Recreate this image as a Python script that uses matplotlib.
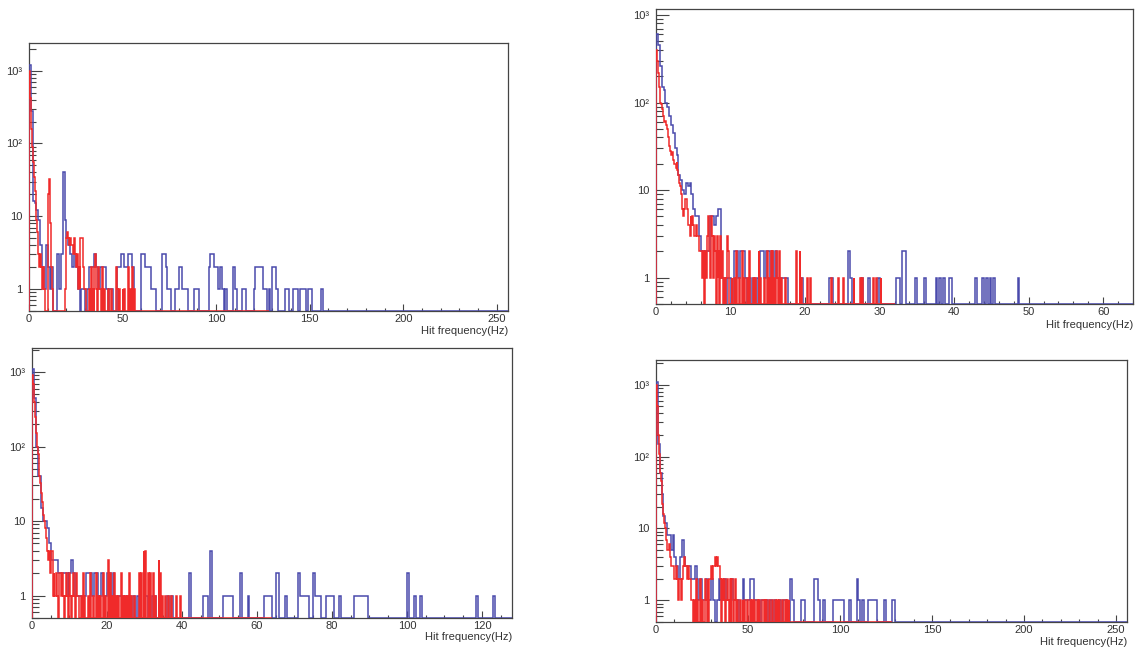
import matplotlib
matplotlib.use('Agg')

import matplotlib.pyplot as plt
import numpy as np
from matplotlib.ticker import FixedLocator, FixedFormatter, MultipleLocator, LogLocator, NullFormatter

plt.rcParams['font.family'] = ['Liberation Sans', 'DejaVu Sans']

# -------------------
# Counts.
# "head" = consecutive bins starting at 0 Hz, "tail" = isolated bins (lower edge in Hz)
# -------------------

# Panel A (top left): blue 1 Hz bins, red 0.5 Hz bins
a_blue_head = [1200, 280, 16, 15, 12, 9, 4, 2, 1, 4, 2, 1, 2, 0, 0, 3, 1, 3, 40, 9,
               5, 4, 3, 2, 3, 2, 1, 0, 1, 1, 0, 1, 2, 2, 2, 3, 2, 1, 2, 2,
               2, 1, 0, 1, 1, 0, 0, 2, 2, 3, 3, 2, 2, 3, 3, 2]
a_blue_tail_hz = [60, 61, 62, 63, 64, 65, 66, 67, 71, 72, 73, 74, 75, 78, 79, 80, 81, 82, 83, 84,
                  88, 89, 90, 96, 97, 98, 99, 100, 101, 102, 103, 105, 109, 110, 114, 115, 120, 121,
                  122, 123, 124, 125, 126, 128, 130, 131, 132, 137, 138, 141, 142, 143, 145, 146,
                  147, 149, 150, 156]
a_blue_tail_n = [3, 3, 2, 2, 2, 1, 1, 1, 3, 3, 2, 1, 1, 1, 1, 2, 2, 1, 1, 1,
                 1, 1, 1, 2, 3, 3, 2, 2, 1, 2, 1, 1, 2, 1, 1, 1, 1, 2,
                 2, 2, 2, 1, 1, 1, 2, 2, 1, 1, 1, 1, 1, 1, 1, 1,
                 1, 1, 1, 1]
a_red_head = [1000, 420, 160, 90, 55, 35, 22, 14, 9, 6, 3, 2, 3, 2, 1, 2, 1, 0, 0, 0,
              20, 33, 8, 5, 2, 1, 0, 0, 0, 0, 0, 0, 0, 0, 0, 0, 0, 0, 0, 1,
              5, 6, 5, 4, 5, 4, 4, 3, 5, 3, 2, 3, 1, 2, 1, 5, 5, 5, 2, 1]
a_red_tail_hz = [30, 32, 33, 34, 35, 35.5, 36, 37, 37.5, 38, 39, 40, 42, 44, 46.5, 47, 48,
                 50, 51, 53, 54, 55, 56]
a_red_tail_n = [1, 1, 2, 1, 2, 3, 1, 2, 1, 1, 2, 1, 1, 1, 2, 1, 1,
                1, 1, 2, 1, 2, 1]

# Panel B (top right): blue 0.25 Hz bins, red 0.125 Hz bins
b_blue_head = [600, 450, 260, 150, 140, 100, 90, 70, 55, 45, 30, 25, 15, 13, 10, 9, 12, 11, 12, 9,
               6, 5, 5, 3, 2, 2, 2, 2, 2, 5, 5, 4, 5, 6, 6, 1, 1, 0, 1, 1]
b_blue_tail_hz = [10.5, 10.75, 11, 11.25, 11.5, 11.75, 12, 12.5, 13, 13.5, 14, 14.25, 14.5, 14.75,
                  15, 15.25, 15.5, 16, 16.25, 16.75, 17, 17.25, 17.5, 19.25, 19.5, 23.25, 23.5,
                  25.75, 26, 27.5, 28.5, 29.75, 32.25, 32.5, 33, 33.25, 34.75, 36, 37.5, 38, 38.5,
                  39.25, 39.5, 42.75, 43.75, 44.25, 44.75, 45.25, 48.5]
b_blue_tail_n = [2, 2, 1, 2, 2, 2, 1, 1, 1, 1, 2, 2, 1, 2,
                 2, 1, 2, 2, 1, 1, 1, 1, 1, 1, 1, 1, 1,
                 2, 1, 1, 1, 1, 1, 1, 2, 2, 1, 1, 1, 1, 1,
                 1, 1, 1, 1, 1, 1, 1, 1]
b_red_head = [400, 300, 220, 150, 100, 95, 85, 70, 65, 60, 62, 55, 50, 40, 32, 28, 25, 27, 22, 20,
              20, 18, 21, 17, 15, 12, 11, 9, 6, 5, 6, 8, 8, 6, 4, 4, 3, 5, 4, 5,
              4, 3, 3, 4, 3, 3, 2, 2, 2, 1, 2, 0, 0, 2, 1, 3, 5, 2, 1, 5,
              3, 1, 3, 2, 0, 3, 1, 2, 0, 3, 1, 2, 0, 1, 0, 1, 3, 2]
b_red_tail_hz = [10.125, 10.5, 10.75, 11.125, 11.5, 11.75, 12.25, 12.5, 13, 13.25, 13.75, 14,
                 14.5, 14.875, 15.125, 15.375, 15.625, 15.875, 16.125, 16.25, 16.5, 16.75, 17.25,
                 18.75, 19.25, 19.5, 20.25, 20.625, 23.5, 24.375, 25.125, 26.5, 27.375, 27.625,
                 29.125, 29.5, 30.125]
b_red_tail_n = [1, 1, 2, 1, 2, 1, 1, 2, 1, 1, 2, 1,
                1, 2, 1, 2, 2, 1, 2, 1, 2, 1, 1,
                2, 2, 1, 1, 1, 1, 1, 1, 1, 1, 1,
                1, 1, 1]

# Panel C (bottom left): blue 0.5 Hz bins, red 0.25 Hz bins
c_blue_head = [1100, 450, 100, 40, 40, 15, 10, 10, 8, 5, 3, 3, 3, 3, 2, 2, 2, 2, 2, 1,
               2, 3, 2, 1, 1, 1, 1, 1, 1, 2, 2, 2, 1, 2, 2, 1, 1, 2, 1, 1,
               2, 2, 1, 2, 1, 0, 1, 1, 1, 0, 1, 0, 1, 0, 1, 0, 1, 0, 0, 0,
               1, 1, 0, 0, 1, 1, 0, 0, 1, 0, 0, 0, 1, 0, 1]
c_blue_tail_hz = [42, 45.5, 46, 46.5, 47.5, 51, 51.5, 52, 52.5, 53, 55.5, 57.5, 62, 62.5, 63, 63.5,
                  65, 65.5, 67.5, 71, 71.5, 72, 72.5, 73, 73.5, 75, 75.5, 76, 76.5, 78.5, 79, 79.5,
                  80, 82, 86, 86.5, 87, 87.5, 88, 88.5, 89, 100, 102, 103.5, 118.5, 123]
c_blue_tail_n = [2, 1, 1, 1, 4, 1, 1, 1, 1, 1, 2, 1, 1, 1, 1, 1,
                 2, 2, 1, 2, 1, 1, 1, 1, 1, 2, 1, 1, 1, 1, 1, 1,
                 1, 1, 1, 1, 1, 1, 1, 1, 1, 2, 1, 1, 1, 1]
c_red_head = [900, 700, 400, 250, 150, 100, 80, 55, 40, 32, 24, 18, 12, 10, 8, 6, 4, 3, 4, 2,
              4, 4, 1, 2, 1, 1, 2, 1, 0, 2, 2, 1, 2, 1, 0, 1, 2, 1, 0, 2,
              2, 1, 0, 1, 2, 1, 0, 2, 1, 1]
c_red_tail_hz = [13, 13.5, 14, 15, 15.5, 16.25, 17, 17.5, 18.25, 19, 19.5, 20.25, 20.75, 21.25,
                 22, 22.5, 23, 23.75, 24.25, 24.75, 25.25, 26, 26.5, 27.25, 28.5, 29, 29.75, 30.25,
                 31, 31.5, 32.25, 32.75, 33.75, 34.25, 34.75, 35.5, 36.25, 37, 38.5, 39.5]
c_red_tail_n = [1, 2, 1, 1, 2, 1, 2, 1, 1, 2, 1, 3, 2, 1,
                2, 1, 1, 2, 1, 1, 1, 2, 1, 1, 2, 2, 4, 4,
                2, 2, 2, 1, 3, 2, 1, 1, 1, 1, 1, 1]

# Panel D (bottom right): blue 1 Hz bins, red 0.5 Hz bins
d_blue_head = [1100, 150, 60, 30, 15, 12, 8, 8, 5, 8, 4, 3, 2, 4, 7, 4, 3, 3, 3, 2,
               2, 3, 2, 1, 2, 1, 1, 2, 1, 1, 2, 1, 0, 1, 2, 1, 1, 2, 1, 1,
               1, 2, 1, 1, 1, 0, 0, 2, 1, 1, 1, 2, 2, 1, 1, 1]
d_blue_tail_hz = [57, 58, 60, 62, 64, 67, 69, 70, 73, 74, 79, 80, 86, 87, 88, 91, 96, 97, 98, 99,
                  100, 101, 105, 109, 110, 112, 115, 116, 117, 118, 119, 124, 128, 129]
d_blue_tail_n = [1, 1, 1, 1, 1, 1, 1, 1, 2, 1, 1, 1, 2, 2, 1, 1, 1, 1, 1, 1,
                 1, 1, 1, 2, 1, 1, 1, 1, 1, 1, 1, 1, 1, 1]
d_red_head = [1000, 500, 200, 110, 60, 45, 32, 22, 16, 12, 10, 7, 5, 5, 6, 4, 3, 3, 3, 2,
              2, 2, 3, 2, 1, 2, 2, 1, 2, 3, 4, 4, 3, 3, 2, 3, 2, 2, 1, 1]
d_red_tail_hz = [20.5, 21.5, 22.5, 24, 25, 26.5, 27, 28, 29, 29.5, 30, 30.5, 31, 31.5, 32, 32.5,
                 33, 33.5, 34, 34.5, 35, 36, 36.5, 37, 38, 38.5, 39, 40, 41, 41.5, 42.5, 43, 44,
                 45.5, 47, 48, 49.5, 51, 52, 53.5, 55, 56, 57.5, 58, 59, 60, 61.5, 63, 64.5, 66,
                 67, 68.5, 70, 71, 72]
d_red_tail_n = [1, 2, 1, 2, 1, 2, 1, 2, 2, 2, 3, 2, 3, 3, 4, 3,
                4, 3, 3, 2, 2, 2, 1, 2, 1, 2, 1, 2, 2, 2, 1, 2, 1,
                1, 1, 1, 1, 1, 1, 1, 1, 1, 1, 1, 1, 1, 1, 1, 1, 1,
                1, 1, 1, 1, 1]

BLUE = '#4a4aac'
RED = '#f02a2a'
YMIN = 0.5


def fill_bins(head, tail_hz, tail_n, width, nbins=256):
    counts = np.zeros(nbins)
    counts[:len(head)] = head
    idx = np.round(np.asarray(tail_hz) / width).astype(int)
    counts[idx] = tail_n
    return counts


def draw_hist(ax, counts, width, color):
    edges = np.arange(len(counts) + 1) * width
    vals = np.where(counts > 0, counts, YMIN)  # empty bins sit on the frame like ROOT
    ax.stairs(vals, edges, baseline=YMIN, color=color, lw=1.1, zorder=3)


# panel: (rect, xmax, ymax, major, minor, blue bin width, blue data, red data, xlabel offset px)
panels = [
    ([0.0255, 0.5201, 0.4213, 0.4136], 256, 2400, 50, 10, 1.0,
     (a_blue_head, a_blue_tail_hz, a_blue_tail_n), (a_red_head, a_red_tail_hz, a_red_tail_n), 20),
    ([0.5770, 0.5309, 0.4195, 0.4552], 64, 1170, 10, 2, 0.25,
     (b_blue_head, b_blue_tail_hz, b_blue_tail_n), (b_red_head, b_red_tail_hz, b_red_tail_n), 21),
    ([0.0281, 0.0463, 0.4222, 0.4167], 128, 2100, 20, 5, 0.5,
     (c_blue_head, c_blue_tail_hz, c_blue_tail_n), (c_red_head, c_red_tail_hz, c_red_tail_n), 19),
    ([0.5770, 0.0401, 0.4142, 0.4043], 256, 2200, 50, 10, 1.0,
     (d_blue_head, d_blue_tail_hz, d_blue_tail_n), (d_red_head, d_red_tail_hz, d_red_tail_n), 20),
]

fig = plt.figure(figsize=(11.37, 6.48), dpi=100)

for rect, xmax, ymax, major, minor, bw, blue, red, lab_off in panels:
    ax = fig.add_axes(rect)
    ax.set_yscale('log')

    draw_hist(ax, fill_bins(*blue, bw), bw, BLUE)
    draw_hist(ax, fill_bins(*red, bw / 2), bw / 2, RED)

    ax.set_xlim(0, xmax)
    ax.set_ylim(YMIN, ymax)

    ax.xaxis.set_major_locator(MultipleLocator(major))
    ax.xaxis.set_minor_locator(MultipleLocator(minor))
    ax.yaxis.set_major_locator(FixedLocator([1, 10, 100, 1000]))
    ax.yaxis.set_major_formatter(FixedFormatter(['1', '10', '10²', '10³']))
    ax.yaxis.set_minor_locator(LogLocator(base=10, subs=np.arange(2, 10), numticks=20))
    ax.yaxis.set_minor_formatter(NullFormatter())

    ax.tick_params(axis='both', which='both', direction='in', colors='#444444',
                   labelcolor='#333333', labelsize=8, width=0.8)
    ax.tick_params(axis='x', which='major', length=5, pad=2)
    ax.tick_params(axis='x', which='minor', length=2.5)
    ax.tick_params(axis='y', which='major', length=9.5, pad=5)
    ax.tick_params(axis='y', which='minor', length=5)

    for sp in ax.spines.values():
        sp.set_color('#444444')
        sp.set_linewidth(0.9)

    ax.annotate('Hit frequency(Hz)', xy=(1, 0), xycoords='axes fraction',
                xytext=(0, -lab_off), textcoords='offset pixels',
                ha='right', va='center', fontsize=8, color='#333333')

plt.savefig('out.png', dpi=100, facecolor='white')
